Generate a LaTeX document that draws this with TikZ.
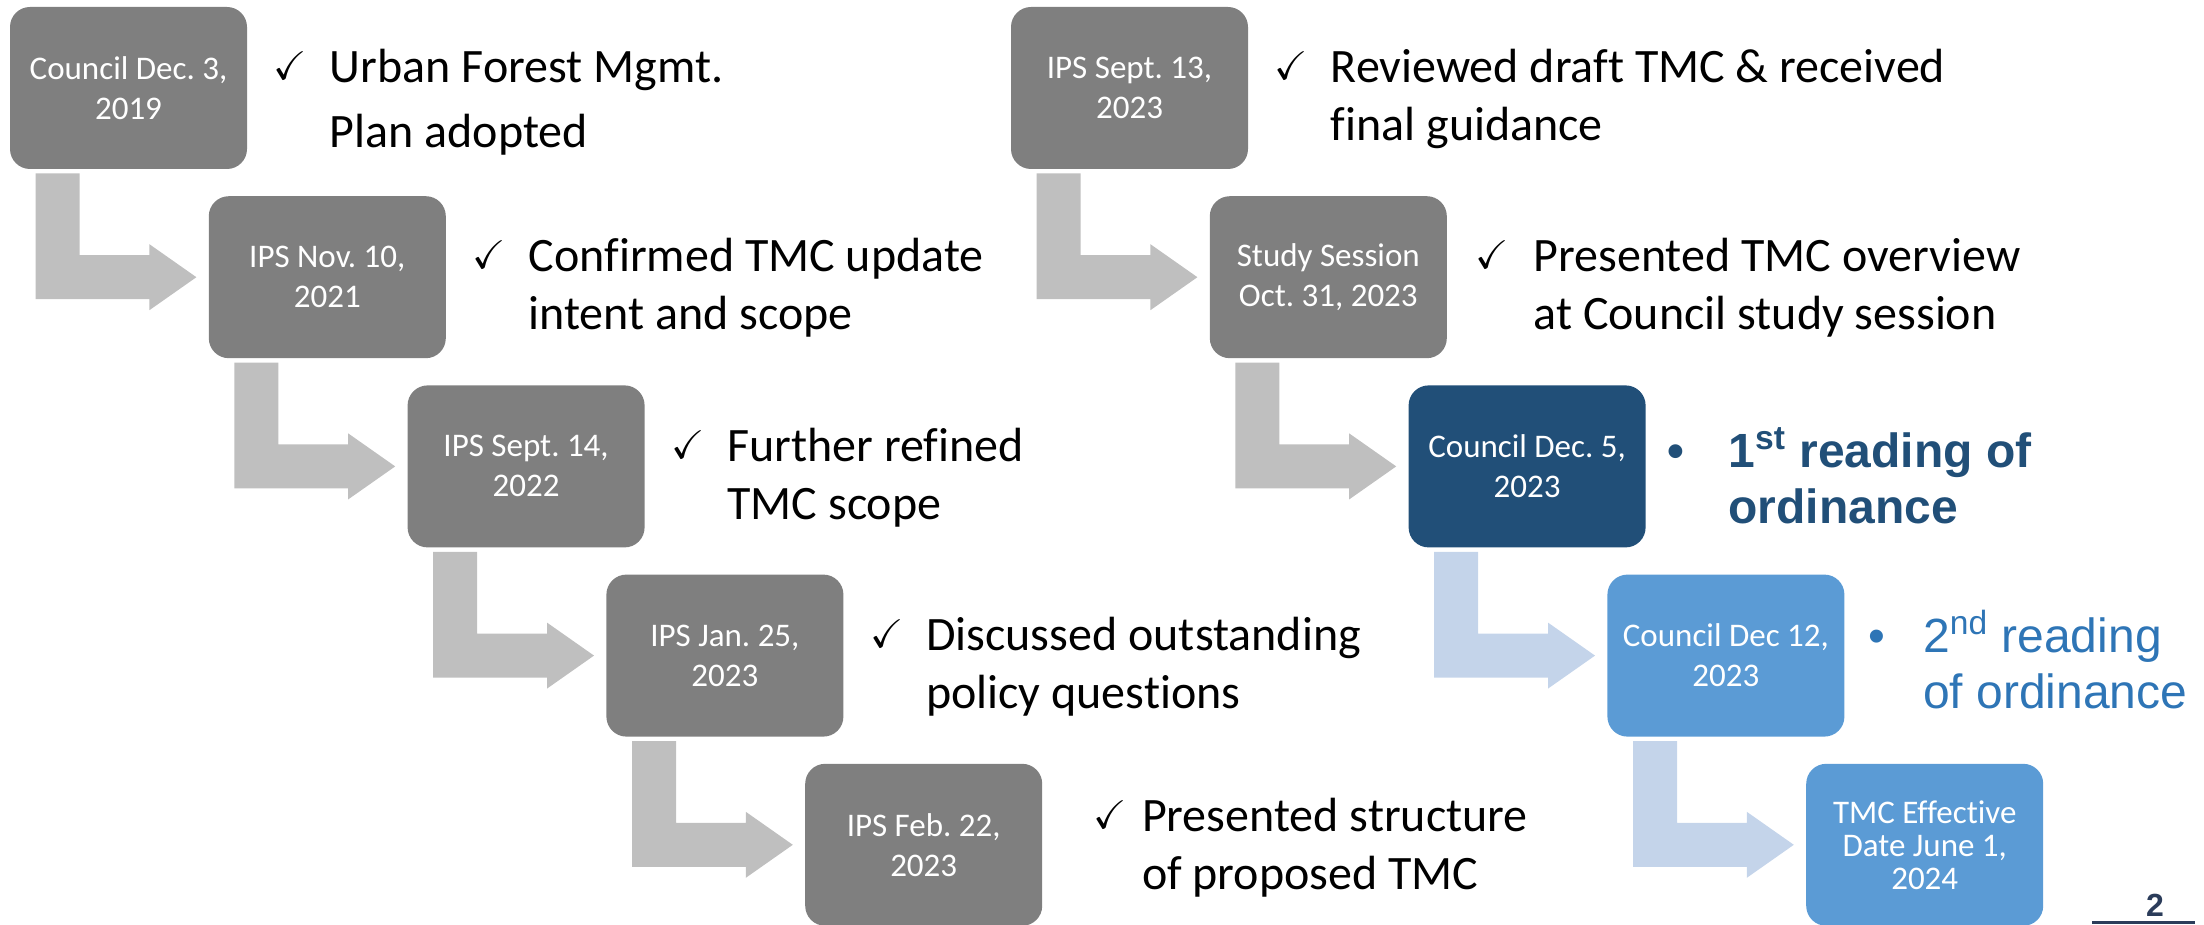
\documentclass[tikz,border=0pt]{standalone}
\usepackage{fontspec}
\setmainfont{Carlito}[Ligatures=NoCommon]
\newfontfamily\arialfont{Liberation Sans}
\usepackage{amssymb}
\usetikzlibrary{positioning,calc}
\frenchspacing

\definecolor{boxgray}{RGB}{127,127,127}
\definecolor{arrowgray}{RGB}{191,191,191}
\definecolor{darkblue}{RGB}{33,79,120}
\definecolor{lightblue}{RGB}{91,155,213}
\definecolor{paleblue}{RGB}{196,212,234}
\definecolor{midblue}{RGB}{46,117,182}
\definecolor{pagenavy}{RGB}{43,60,90}

% bent block arrow from the bottom of one box to the left side of the next
\newcommand{\steparrow}[3]{%
  \fill[#3] ($(#1.south west)+(26,4)$) -- ($(#1.south west)+(70,4)$)
    -- ($(#1.south west |- #2.west)+(70,-22)$) -- ($(#2.west)+(-59,-22)$)
    -- ($(#2.west)+(-59,-33)$) -- ($(#2.west)+(-12,0)$)
    -- ($(#2.west)+(-59,33)$) -- ($(#2.west)+(-59,22)$)
    -- ($(#1.south west |- #2.west)+(26,22)$) -- cycle;}
\newcommand{\chk}{\raisebox{1.5pt}{\fontsize{20}{20}\selectfont$\checkmark$}}

\begin{document}
\begin{tikzpicture}[x=0.5pt,y=-0.5pt,node distance=13.2pt and -19.5pt,
    every node/.style={inner sep=0pt},
    stepbox/.style={rounded corners=10pt,minimum width=118.5pt,minimum height=81pt,
      align=center,text=white,font=\fontsize{16.5}{20}\selectfont},
    graybox/.style={stepbox,fill=boxgray},
    note/.style={font=\fontsize{24}{29}\selectfont,yshift=-6pt}]

    \useasboundingbox (0,0) rectangle (2204,925);

    % left column
    \node[graybox] (c19) at (128.5,88) {Council Dec. 3,\\2019};
    \node[graybox, below right=of c19] (ips21) {IPS Nov. 10,\\2021};
    \node[graybox, below right=of ips21] (ips22) {IPS Sept. 14,\\2022};
    \node[graybox, below right=of ips22] (ipsjan) {IPS Jan. 25,\\2023};
    \node[graybox, below right=of ipsjan] (ipsfeb) {IPS Feb. 22,\\2023};

    % right column
    \node[graybox] (ipssep) at (1129.5,88) {IPS Sept. 13,\\2023};
    \node[graybox, below right=of ipssep] (study) {Study Session\\Oct. 31, 2023};
    \node[stepbox, fill=darkblue, below right=of study] (read1) {Council Dec. 5,\\2023};
    \node[stepbox, fill=lightblue, below right=of read1] (read2) {Council Dec 12,\\2023};
    \node[stepbox, fill=lightblue, font=\fontsize{16.5}{16.5}\selectfont, below right=of read2] (eff) {TMC Effective\\Date June 1,\\2024};

    \node[note, right=13pt of c19, font=\fontsize{24}{32.5}\selectfont, yshift=-1pt] (t19) {\begin{tabular}{@{}p{28pt}@{}l@{}}\chk & Urban Forest Mgmt.\\ & Plan adopted\end{tabular}};
    \node[note, right=13pt of ips21] (t21) {\begin{tabular}{@{}p{28pt}@{}l@{}}\chk & Confirmed TMC update\\ & intent and scope\end{tabular}};
    \node[note, right=13pt of ips22] (t22) {\begin{tabular}{@{}p{28pt}@{}l@{}}\chk & Further refined\\ & TMC scope\end{tabular}};
    \node[note, right=13pt of ipsjan] (tjan) {\begin{tabular}{@{}p{28pt}@{}l@{}}\chk & Discussed outstanding\\ & policy questions\end{tabular}};
    \node[note, right=25pt of ipsfeb, yshift=4pt] (tfeb) {\begin{tabular}{@{}p{24.5pt}@{}l@{}}\chk & Presented structure\\ & of proposed TMC\end{tabular}};
    \node[note, right=13pt of ipssep] (tsep) {\begin{tabular}{@{}p{28pt}@{}l@{}}\chk & Reviewed draft TMC \& received\\ & final guidance\end{tabular}};
    \node[note, right=14pt of study] (tstudy) {\begin{tabular}{@{}p{29pt}@{}l@{}}\chk & Presented TMC overview\\ & at Council study session\end{tabular}};
    \node[note, right=10.5pt of read1, yshift=-3pt, font=\arialfont\bfseries\fontsize{24}{28}\selectfont, text=darkblue] (tread1) {\begin{tabular}{@{}p{30.5pt}@{}l@{}}\textbullet & 1\textsuperscript{st} reading of\\ & ordinance\end{tabular}};
    \node[note, right=11.5pt of read2, font=\arialfont\fontsize{24}{28}\selectfont, text=midblue] (tread2) {\begin{tabular}{@{}p{27.5pt}@{}l@{}}\textbullet & 2\textsuperscript{nd} reading\\ & of ordinance\end{tabular}};

    \node[font=\arialfont\bfseries\fontsize{16}{16}\selectfont, text=pagenavy] (pg) at (2155,905) {2};
    \draw[pagenavy, line width=1.5pt] (2092,922) -- (2195,922);

    \steparrow{c19}{ips21}{arrowgray}
    \steparrow{ips21}{ips22}{arrowgray}
    \steparrow{ips22}{ipsjan}{arrowgray}
    \steparrow{ipsjan}{ipsfeb}{arrowgray}
    \steparrow{ipssep}{study}{arrowgray}
    \steparrow{study}{read1}{arrowgray}
    \steparrow{read1}{read2}{paleblue}
    \steparrow{read2}{eff}{paleblue}
\end{tikzpicture}
\end{document}
